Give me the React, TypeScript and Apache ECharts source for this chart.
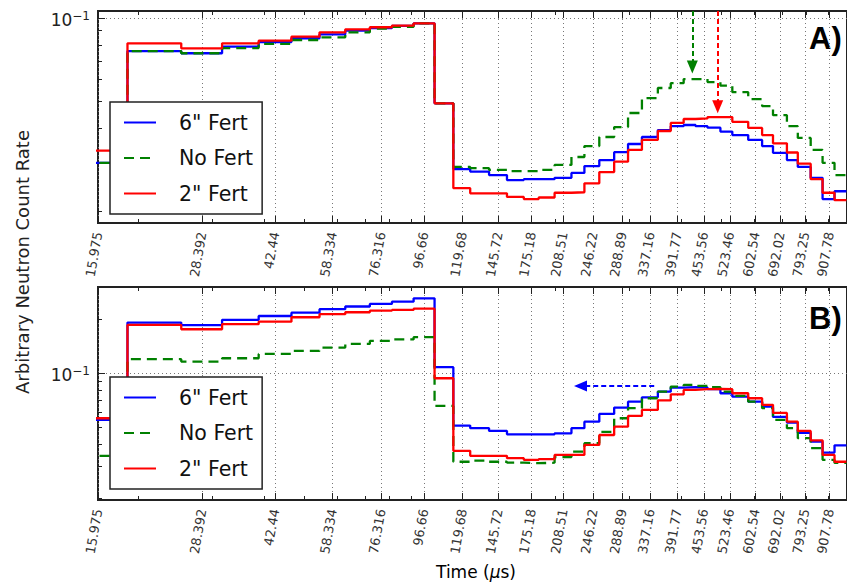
import { useEffect, useRef } from "react";
import * as echarts from "echarts";

// ---------- data ----------
const xTickLabels = [
  "15.975", "28.392", "42.44", "58.334", "76.316", "96.66", "119.68", "145.72", "175.18", "208.51",
  "246.22", "288.89", "337.16", "391.77", "453.56", "523.46", "602.54", "692.02", "793.25", "907.78",
];
const xMinorTickValues = [20, 30, 40, 50, 60, 70, 80, 90, 200, 300, 400, 500, 600, 700, 800, 900];
const yMajorTickValues = [0.1];
const yMinorTickValues = [0.02, 0.03, 0.04, 0.05, 0.06, 0.07, 0.08, 0.09, 0.2, 0.3];
const timeRange = [15.975, 1000];
const countRangeA = [0.0182, 0.106];
const countRangeB = [0.0195, 0.302];

// histogram bin edges (µs)
const binEdges = [
  13.5, 18.8, 25.3, 31.7, 38.8, 46.5, 54.3, 62.6, 71.7, 81.0,
  91.3, 102.5, 113.7, 124.8, 138.5, 152.9, 167.8, 182.2, 198.9, 218.3,
  234.5, 254.6, 276.4, 298.4, 322.2, 351.8, 377.8, 405.7, 433.3, 462.8,
  497.0, 530.8, 579.5, 625.7, 664.5, 717.6, 762.1, 818.3, 873.8, 933.4, 996.8,
];

const seriesNames = ['6" Fert', "No Fert", '2" Fert'];
const seriesColors = ["#0000ff", "#008000", "#ff0000"];

// Panel A
const fert6A = [
  0.0300, 0.0760, 0.0746, 0.0788, 0.0819, 0.0845, 0.0873, 0.0900, 0.0920, 0.0936,
  0.0957, 0.0492, 0.0285, 0.0279, 0.0271, 0.0260, 0.0262, 0.0262, 0.0265, 0.0276,
  0.0292, 0.0307, 0.0328, 0.0351, 0.0372, 0.0394, 0.0407, 0.0411, 0.0407, 0.0402,
  0.0389, 0.0378, 0.0363, 0.0345, 0.0326, 0.0307, 0.0290, 0.0265, 0.0222, 0.0237,
];
const noFertA = [
  0.0300, 0.0760, 0.0746, 0.0779, 0.0806, 0.0833, 0.0852, 0.0888, 0.0915, 0.0930,
  0.0957, 0.0492, 0.0290, 0.0287, 0.0283, 0.0280, 0.0280, 0.0283, 0.0295, 0.0315,
  0.0345, 0.0372, 0.0404, 0.0454, 0.0514, 0.0559, 0.0582, 0.0602, 0.0602, 0.0587,
  0.0570, 0.0540, 0.0510, 0.0481, 0.0446, 0.0407, 0.0369, 0.0334, 0.0300, 0.0271,
];
const fert2A = [
  0.0332, 0.0810, 0.0777, 0.0810, 0.0828, 0.0856, 0.0888, 0.0910, 0.0926, 0.0938,
  0.0957, 0.0492, 0.0243, 0.0233, 0.0233, 0.0226, 0.0222, 0.0225, 0.0234, 0.0235,
  0.0253, 0.0278, 0.0303, 0.0334, 0.0363, 0.0391, 0.0418, 0.0432, 0.0434, 0.0439,
  0.0439, 0.0422, 0.0401, 0.0378, 0.0353, 0.0327, 0.0298, 0.0262, 0.0234, 0.0220,
];

// Panel B
const fert6B = [
  0.0546, 0.191, 0.185, 0.198, 0.208, 0.217, 0.227, 0.235, 0.243, 0.250,
  0.261, 0.1076, 0.0508, 0.0491, 0.0474, 0.0454, 0.0454, 0.0454, 0.0460, 0.0491,
  0.0534, 0.0590, 0.0640, 0.0691, 0.0731, 0.0786, 0.0828, 0.0832, 0.0830, 0.0811,
  0.0770, 0.0737, 0.0691, 0.0648, 0.0568, 0.0528, 0.0462, 0.0413, 0.0359, 0.0394,
];
const noFertB = [
  0.0344, 0.1193, 0.1157, 0.1208, 0.1277, 0.1327, 0.1385, 0.1452, 0.1509, 0.1539,
  0.1583, 0.0654, 0.0319, 0.0324, 0.0319, 0.0315, 0.0313, 0.0315, 0.0339, 0.0363,
  0.0405, 0.0468, 0.0558, 0.0635, 0.0722, 0.0786, 0.0839, 0.0857, 0.0846, 0.0832,
  0.0786, 0.0744, 0.0691, 0.0635, 0.0546, 0.0491, 0.0432, 0.0380, 0.0327, 0.0314,
];
const fert2B = [
  0.0558, 0.1854, 0.1754, 0.1871, 0.1934, 0.2047, 0.2128, 0.2183, 0.2228, 0.2249,
  0.2284, 0.0934, 0.0367, 0.0344, 0.0344, 0.0334, 0.0327, 0.0330, 0.0348, 0.0348,
  0.0396, 0.0450, 0.0501, 0.0575, 0.0621, 0.0702, 0.0758, 0.0804, 0.0811, 0.0814,
  0.0811, 0.0770, 0.0722, 0.0663, 0.0598, 0.0534, 0.0474, 0.0420, 0.0348, 0.0319,
];

// annotation arrows
const arrowNoFertA = { time: 425.6, from: 0.106, to: 0.0665 };
const arrowFert2A = { time: 489.6, from: 0.106, to: 0.0478 };
const arrowFert6B = { fromTime: 344.8, toTime: 229.5, count: 0.0846 };

// ---------- helpers ----------
const lg = Math.log10;
const xMajor = xTickLabels.map((s) => lg(parseFloat(s)));
const xMinor = xMinorTickValues.map(lg);
const yMajor = yMajorTickValues.map(lg);
const yMinor = yMinorTickValues.map(lg);

const FONT = "DejaVu Sans";
const tickLine = { color: "#222", width: 1 };
const dotted = { color: "#777", width: 1, type: [1, 3] };

function stepPoints(values: number[]) {
  return binEdges.map((edge, i) => [lg(edge), lg(values[Math.min(i, values.length - 1)])]);
}

function labelFor(v: number) {
  const s = xTickLabels.find((l) => Math.abs(lg(parseFloat(l)) - v) < 1e-6);
  return s ?? "";
}

function makeXAxes(gridIndex: number) {
  const common = {
    type: "value",
    gridIndex,
    min: lg(timeRange[0]),
    max: lg(timeRange[1]),
    axisLine: { show: false },
    axisLabel: { show: false },
    splitLine: { show: false },
  };
  const tick = (len: number, values: number[]) => ({
    show: true,
    inside: true,
    length: len,
    customValues: values,
    lineStyle: tickLine,
  });
  return [
    {
      ...common,
      position: "bottom",
      axisTick: tick(7, xMajor),
      axisLabel: {
        show: true,
        customValues: xMajor,
        rotate: 80,
        margin: 9,
        fontSize: 13,
        fontFamily: FONT,
        color: "#333",
        formatter: (v: number) => labelFor(v),
      },
      splitLine: { show: true, lineStyle: dotted },
    },
    { ...common, position: "bottom", axisTick: tick(4, xMinor) },
    { ...common, position: "top", axisTick: tick(7, xMajor) },
    { ...common, position: "top", axisTick: tick(4, xMinor) },
  ];
}

function makeYAxes(gridIndex: number, range: number[]) {
  const common = {
    type: "value",
    gridIndex,
    min: lg(range[0]),
    max: lg(range[1]),
    position: "left",
    axisLine: { show: false },
  };
  return [
    {
      ...common,
      axisTick: { show: true, inside: true, length: 7, customValues: yMajor, lineStyle: tickLine },
      axisLabel: {
        show: true,
        customValues: yMajor,
        margin: 8,
        padding: [4, 0, 0, 0],
        formatter: (v: number) => `{b|10}{s|${Math.round(v) < 0 ? "\u2212" : ""}${Math.abs(Math.round(v))}}`,
        rich: {
          b: { fontSize: 17, fontFamily: FONT, color: "#222", lineHeight: 20 },
          s: { fontSize: 12, fontFamily: FONT, color: "#222", lineHeight: 12, verticalAlign: "top" },
        },
      },
      splitLine: { show: true, lineStyle: dotted },
    },
    {
      ...common,
      axisTick: { show: true, inside: true, length: 4, customValues: yMinor, lineStyle: tickLine },
      axisLabel: { show: false },
      splitLine: { show: false },
    },
  ];
}

function makeSeries(panel: number, values: number[][], extra: any[]) {
  return values.map((vals, k) => ({
    type: "line",
    name: seriesNames[k],
    xAxisIndex: panel * 4,
    yAxisIndex: panel * 2,
    data: stepPoints(vals),
    step: "end",
    symbol: "none",
    silent: true,
    clip: true,
    lineStyle: { color: seriesColors[k], width: 2.3, type: k === 1 ? [10, 6] : "solid" },
    itemStyle: { color: seriesColors[k] },
    ...(extra[k] || {}),
  }));
}

function arrowMarkLine(color: string, p1: number[], p2: number[]) {
  return {
    markLine: {
      silent: true,
      symbol: ["none", "triangle"],
      symbolSize: [11, 13],
      label: { show: false },
      emphasis: { disabled: true },
      lineStyle: { color, width: 2, type: [5, 3] },
      data: [[{ coord: p1 }, { coord: p2 }]],
    },
  };
}

function makeLegend(top: number) {
  return {
    left: 110,
    top,
    orient: "vertical",
    data: seriesNames,
    itemWidth: 32,
    itemHeight: 18,
    itemGap: 14.5,
    padding: [10, 9, 10, 13],
    backgroundColor: "#fff",
    borderColor: "#222",
    borderWidth: 1.5,
    borderRadius: 0,
    selectedMode: false,
    itemStyle: { opacity: 0 },
    textStyle: { fontSize: 20.5, fontFamily: FONT, color: "#111", padding: [0, 0, 0, 18] },
  };
}

export default function App() {
  const ref = useRef<HTMLDivElement>(null);

  useEffect(() => {
    if (!ref.current) return;
    const chart = echarts.init(ref.current, null, { renderer: "svg" });

    const seriesA = makeSeries(0, [fert6A, noFertA, fert2A], [
      {},
      arrowMarkLine(seriesColors[1], [lg(arrowNoFertA.time), lg(arrowNoFertA.from)], [lg(arrowNoFertA.time), lg(arrowNoFertA.to)]),
      arrowMarkLine(seriesColors[2], [lg(arrowFert2A.time), lg(arrowFert2A.from)], [lg(arrowFert2A.time), lg(arrowFert2A.to)]),
    ]);
    const seriesB = makeSeries(1, [fert6B, noFertB, fert2B], [
      arrowMarkLine(seriesColors[0], [lg(arrowFert6B.fromTime), lg(arrowFert6B.count)], [lg(arrowFert6B.toTime), lg(arrowFert6B.count)]),
      {},
      {},
    ]);

    const option: any = {
      animation: false,
      backgroundColor: "#fff",
      grid: [
        { left: 98, top: 11, width: 754.6, height: 212, show: true, borderColor: "#222", borderWidth: 2, backgroundColor: "transparent" },
        { left: 98, top: 287, width: 754.6, height: 213, show: true, borderColor: "#222", borderWidth: 2, backgroundColor: "transparent" },
      ],
      xAxis: [...makeXAxes(0), ...makeXAxes(1)],
      yAxis: [...makeYAxes(0, countRangeA), ...makeYAxes(1, countRangeB)],
      legend: [makeLegend(102), makeLegend(377)],
      series: [...seriesA, ...seriesB],
      graphic: [
        {
          type: "text",
          x: 22,
          y: 262,
          rotation: Math.PI / 2,
          style: { text: "Arbitrary Neutron Count Rate", font: `18px "${FONT}"`, fill: "#222", align: "center", verticalAlign: "middle" },
        },
        {
          type: "text",
          x: 476,
          y: 572,
          style: {
            text: "{a|Time (}{m|\u03bc}{a|s)}",
            align: "center",
            verticalAlign: "middle",
            rich: {
              a: { fontSize: 17, fontFamily: FONT, color: "#222" },
              m: { fontSize: 17, fontFamily: FONT, fontStyle: "italic", color: "#222" },
            },
          },
        },
        {
          type: "text",
          x: 809,
          y: 38,
          style: { text: "A)", font: 'bold 31px "Liberation Sans"', fill: "#000", align: "left", verticalAlign: "middle" },
        },
        {
          type: "text",
          x: 809,
          y: 318,
          style: { text: "B)", font: 'bold 31px "Liberation Sans"', fill: "#000", align: "left", verticalAlign: "middle" },
        },
      ],
    };

    chart.setOption(option);
    return () => chart.dispose();
  }, []);

  return (
    <div
      ref={ref}
      style={{ position: "fixed", left: 0, top: 0, width: 847, height: 584, background: "#fff" }}
    />
  );
}
